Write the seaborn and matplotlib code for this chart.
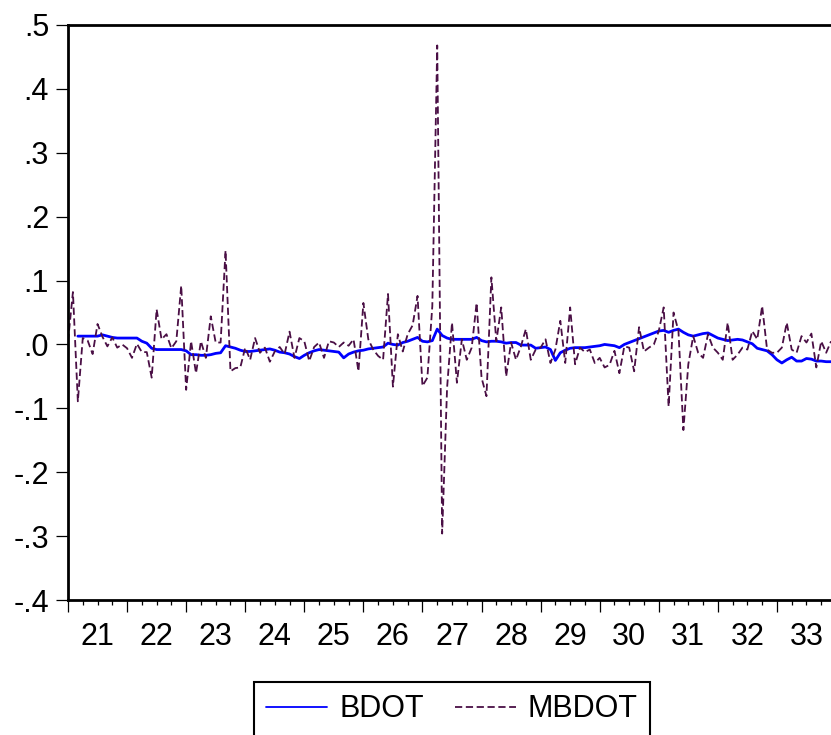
import numpy as np
import pandas as pd
import matplotlib
matplotlib.use("Agg")
import matplotlib.pyplot as plt
import seaborn as sns

# monthly data, Jan 21 .. Dec 33
mbdot = [0.005, 0.082, -0.089, 0.010, 0.006, -0.015, 0.032, 0.012, -0.003, 0.011, -0.005, 0.000,
         -0.006, -0.021, 0.001, -0.012, -0.012, -0.052, 0.055, 0.008, 0.016, -0.006, 0.005, 0.092,
         -0.071, 0.005, -0.045, 0.005, -0.021, 0.044, 0.003, 0.003, 0.147, -0.042, -0.037, -0.036,
         -0.005, -0.024, 0.010, -0.013, -0.005, -0.027, -0.011, -0.004, -0.015, 0.020, -0.021, 0.010,
         0.005, -0.026, -0.004, 0.003, -0.021, 0.005, 0.003, -0.004, 0.003, -0.002, 0.008, -0.042,
         0.065, 0.008, -0.008, -0.018, -0.024, 0.079, -0.066, 0.016, -0.011, 0.016, 0.030, 0.076,
         -0.065, -0.052, 0.060, 0.468, -0.296, -0.068, 0.034, -0.060, 0.008, -0.024, -0.005, 0.065,
         -0.052, -0.081, 0.105, 0.005, 0.058, -0.050, 0.003, -0.024, -0.003, 0.024, -0.024, -0.008,
         -0.005, 0.008, -0.029, -0.008, 0.037, -0.029, 0.058, -0.031, -0.005, -0.012, -0.008, -0.029,
         -0.021, -0.036, -0.032, -0.010, -0.045, -0.003, -0.005, -0.042, 0.027, -0.011, -0.005, 0.000,
         0.021, 0.058, -0.097, 0.050, 0.021, -0.134, -0.031, 0.013, -0.013, -0.021, 0.016, -0.005,
         -0.013, -0.024, 0.034, -0.024, -0.016, -0.005, -0.008, 0.021, 0.008, 0.060, -0.008, -0.013,
         -0.013, -0.005, 0.034, -0.008, -0.013, 0.013, 0.003, 0.017, -0.036, 0.005, -0.013, 0.005]

bdot = [np.nan, np.nan, 0.013, 0.013, 0.013, 0.013, 0.013, 0.015, 0.013, 0.011, 0.010, 0.010,
        0.010, 0.010, 0.010, 0.005, 0.002, -0.006, -0.008, -0.008, -0.008, -0.008, -0.008, -0.008,
        -0.010, -0.016, -0.016, -0.017, -0.017, -0.016, -0.014, -0.013, -0.002, -0.004, -0.006, -0.009,
        -0.011, -0.011, -0.010, -0.009, -0.008, -0.007, -0.009, -0.012, -0.013, -0.015, -0.019, -0.022,
        -0.017, -0.013, -0.010, -0.008, -0.009, -0.010, -0.011, -0.012, -0.021, -0.015, -0.012, -0.010,
        -0.009, -0.007, -0.006, -0.005, -0.004, 0.002, 0.000, -0.001, 0.003, 0.005, 0.008, 0.011,
        0.005, 0.004, 0.006, 0.024, 0.014, 0.010, 0.008, 0.008, 0.008, 0.008, 0.008, 0.011,
        0.006, 0.004, 0.005, 0.005, 0.004, 0.002, 0.003, 0.003, -0.001, -0.001, -0.001, -0.006,
        -0.005, -0.004, -0.008, -0.025, -0.013, -0.009, -0.006, -0.005, -0.005, -0.005, -0.004, -0.003,
        -0.002, 0.000, -0.001, -0.002, -0.005, 0.000, 0.003, 0.006, 0.009, 0.012, 0.015, 0.018,
        0.021, 0.022, 0.019, 0.022, 0.024, 0.019, 0.015, 0.013, 0.015, 0.017, 0.018, 0.014,
        0.010, 0.008, 0.006, 0.007, 0.008, 0.007, 0.004, 0.001, -0.006, -0.008, -0.010, -0.016,
        -0.024, -0.029, -0.024, -0.020, -0.026, -0.026, -0.022, -0.023, -0.026, -0.026, -0.027, -0.027]

years = list(range(21, 34))
year_labels = [str(y) for y in years]
ytick_vals = [-0.4, -0.3, -0.2, -0.1, 0.0, 0.1, 0.2, 0.3, 0.4, 0.5]
ytick_labels = ["-.4", "-.3", "-.2", "-.1", ".0", ".1", ".2", ".3", ".4", ".5"]

t = 21 + np.arange(len(mbdot)) / 12.0
df = pd.DataFrame({"t": t, "BDOT": bdot, "MBDOT": mbdot})

sns.set_style("ticks")
plt.rcParams["font.family"] = ["Liberation Sans", "DejaVu Sans"]
plt.rcParams["text.color"] = "black"
plt.rcParams["xtick.color"] = "black"
plt.rcParams["ytick.color"] = "black"
plt.rcParams["axes.labelcolor"] = "black"

fig = plt.figure(figsize=(8.31, 7.35), dpi=100)
ax = fig.add_axes([68 / 831, 1 - 600 / 735, (836 - 68) / 831, 575 / 735])

sns.lineplot(data=df, x="t", y="BDOT", ax=ax, color="#0000FF", linewidth=2.0, label="BDOT")
sns.lineplot(data=df, x="t", y="MBDOT", ax=ax, color="#4A0F45", linewidth=1.3,
             linestyle=(0, (4, 2)), label="MBDOT")

ax.set_xlim(21, 34)
ax.set_ylim(-0.4, 0.5)
ax.set_xlabel("")
ax.set_ylabel("")

ax.set_yticks(ytick_vals)
ax.set_yticklabels(ytick_labels)
ax.set_xticks(np.arange(21, 35))
ax.set_xticklabels([])
minor = np.arange(21.25, 34, 0.25)
minor = minor[np.abs(minor - np.round(minor)) > 1e-6]
ax.set_xticks(minor, minor=True)
ax.set_xticklabels([year_labels[int(m) - 21] if abs(m % 1 - 0.5) < 1e-6 else "" for m in minor],
                   minor=True)

ax.tick_params(axis="y", direction="out", length=8.6, width=0.9, pad=5, labelsize=22,
               colors="black")
ax.tick_params(axis="x", which="major", direction="out", length=8.6, width=0.9, colors="black")
ax.tick_params(axis="x", which="minor", direction="out", length=3.6, width=0.9, pad=12,
               labelsize=22, colors="black")

for s in ax.spines.values():
    s.set_linewidth(2.0)
    s.set_color("black")

leg = ax.legend(loc="upper center", bbox_to_anchor=(0.5, -0.143), ncol=2, fontsize=22,
                frameon=True, fancybox=False, edgecolor="black", framealpha=1,
                borderaxespad=0, handlelength=2.0, handletextpad=0.4, columnspacing=1.0,
                borderpad=0.4)
leg.get_frame().set_linewidth(1.5)
for ln in leg.get_lines():
    ln.set_linewidth(1.3)
for txt in leg.get_texts():
    txt.set_color("black")

fig.savefig("out.png", dpi=100)
